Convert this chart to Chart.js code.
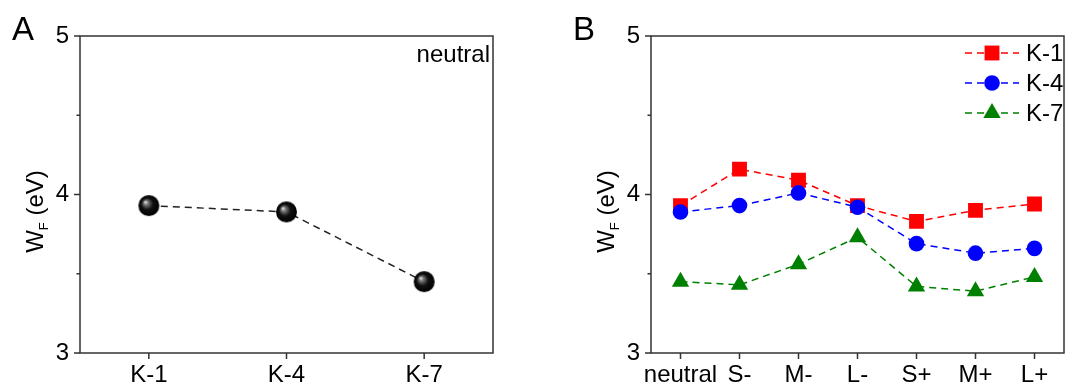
<!DOCTYPE html>
<html>
<head>
<meta charset="utf-8">
<script src="https://cdn.jsdelivr.net/npm/chart.js@4"></script>
<style>
  body { margin: 0; background: #fff; }
  #wrap { position: relative; width: 1088px; height: 390px; }
  canvas { position: absolute; top: 0; }
</style>
</head>
<body>
<div id="wrap">
  <canvas id="chartA" width="544" height="390" style="left:0"></canvas>
  <canvas id="chartB" width="544" height="390" style="left:544px"></canvas>
</div>
<script>
const samples = ['K-1', 'K-4', 'K-7'];
const neutralWF = [3.93, 3.89, 3.45];

const states = ['neutral', 'S-', 'M-', 'L-', 'S+', 'M+', 'L+'];
const wfK1 = [3.93, 4.16, 4.09, 3.93, 3.83, 3.90, 3.94];
const wfK4 = [3.89, 3.93, 4.01, 3.92, 3.69, 3.63, 3.66];
const wfK7 = [3.45, 3.43, 3.56, 3.73, 3.42, 3.39, 3.48];

const yMajor = [3, 4, 5];
const yMinor = [3.5, 4.5];

const FONT = "'Liberation Sans', Arial, sans-serif";
Chart.defaults.font.family = FONT;
Chart.defaults.color = '#000';

// black glossy ball used as point style in panel A
function sphere(r) {
  const c = document.createElement('canvas');
  c.width = c.height = 2 * r + 2;
  const g = c.getContext('2d');
  const m = r + 1;
  const grad = g.createRadialGradient(m - r * 0.35, m - r * 0.35, 0, m, m, r);
  grad.addColorStop(0, '#f4f4f4');
  grad.addColorStop(0.22, '#777');
  grad.addColorStop(0.55, '#111');
  grad.addColorStop(1, '#000');
  g.fillStyle = grad;
  g.beginPath();
  g.arc(m, m, r, 0, Math.PI * 2);
  g.fill();
  return c;
}

const frame = {
  id: 'frame',
  beforeDatasetsDraw(chart, args, opts) {
    const { ctx, chartArea: a, scales: { x, y } } = chart;
    ctx.save();
    ctx.strokeStyle = '#333';
    ctx.lineWidth = 1.5;
    ctx.strokeRect(a.left, a.top, a.right - a.left, a.bottom - a.top);
    ctx.beginPath();
    yMajor.forEach(v => {
      const py = y.getPixelForValue(v);
      ctx.moveTo(a.left - 6, py); ctx.lineTo(a.left, py);
    });
    yMinor.forEach(v => {
      const py = y.getPixelForValue(v);
      ctx.moveTo(a.left - 3.5, py); ctx.lineTo(a.left, py);
    });
    x.ticks.forEach((t, i) => {
      const px = x.getPixelForTick(i);
      ctx.moveTo(px, a.bottom); ctx.lineTo(px, a.bottom + 6);
    });
    ctx.stroke();

    // y title: W_F (eV)
    ctx.fillStyle = '#000';
    ctx.translate(a.left - 37, (a.top + a.bottom) / 2 + 17);
    ctx.rotate(-Math.PI / 2);
    ctx.textBaseline = 'alphabetic';
    ctx.font = '24px ' + FONT;
    const wW = ctx.measureText('W').width;
    const rest = ' (eV)';
    const rW = ctx.measureText(rest).width;
    ctx.font = '13px ' + FONT;
    const fW = ctx.measureText('F').width;
    let sx = -(wW + fW + rW) / 2;
    ctx.font = '24px ' + FONT;
    ctx.fillText('W', sx, 0);
    ctx.font = '13px ' + FONT;
    ctx.fillText('F', sx + wW, 5);
    ctx.font = '24px ' + FONT;
    ctx.fillText(rest, sx + wW + fW, 0);
    ctx.restore();

    ctx.save();
    ctx.fillStyle = '#000';
    ctx.font = '33px ' + FONT;
    ctx.textBaseline = 'alphabetic';
    ctx.fillText(opts.letter, opts.letterX, 40);
    if (opts.note) {
      ctx.font = '24px ' + FONT;
      ctx.textAlign = 'right';
      ctx.fillText(opts.note, a.right - 3, 62);
    }
    ctx.restore();
  }
};

const legendB = {
  id: 'legendB',
  afterDraw(chart, args, opts) {
    if (!opts.show) return;
    const { ctx } = chart;
    const rows = [53, 83, 113];
    chart.data.datasets.forEach((ds, i) => {
      const yy = rows[i];
      ctx.save();
      ctx.strokeStyle = ds.borderColor;
      ctx.lineWidth = 1.5;
      ctx.setLineDash([7, 5]);
      ctx.beginPath();
      ctx.moveTo(421, yy); ctx.lineTo(475, yy);
      ctx.stroke();
      ctx.setLineDash([]);
      ctx.fillStyle = ds.pointBackgroundColor;
      ctx.strokeStyle = ds.pointBackgroundColor;
      Chart.helpers.drawPoint(ctx, { pointStyle: ds.pointStyle, radius: ds.pointRadius, borderWidth: 0, rotation: 0 }, 448, yy);
      ctx.fillStyle = '#000';
      ctx.font = '24px ' + FONT;
      ctx.textBaseline = 'middle';
      ctx.fillText(ds.label, 482, yy + 1);
      ctx.restore();
    });
  }
};

function axes(leftW) {
  return {
    x: {
      type: 'category',
      offset: true,
      grid: { display: false, drawTicks: false },
      border: { display: false },
      ticks: { font: { size: 24 }, padding: 8, color: '#000', maxRotation: 0, autoSkip: false },
      afterFit: s => { s.height = 37; }
    },
    y: {
      min: 3,
      max: 5,
      grid: { display: false, drawTicks: false },
      border: { display: false },
      ticks: { stepSize: 1, font: { size: 24 }, padding: 11, color: '#000' },
      afterFit: s => { s.width = leftW; }
    }
  };
}

const common = {
  responsive: false,
  animation: false,
  devicePixelRatio: 1,
  events: []
};

new Chart(document.getElementById('chartA'), {
  type: 'line',
  data: {
    labels: samples,
    datasets: [{
      label: 'neutral',
      data: neutralWF,
      borderColor: '#222',
      borderWidth: 1.5,
      borderDash: [7, 5],
      pointStyle: sphere(10.5),
      pointRadius: 10.5,
      fill: false
    }]
  },
  options: Object.assign({}, common, {
    layout: { padding: { top: 36, right: 51, left: 0, bottom: 0 } },
    scales: axes(80),
    plugins: {
      legend: { display: false },
      tooltip: { enabled: false },
      frame: { letter: 'A', letterX: 12, note: 'neutral' },
      legendB: { show: false }
    }
  }),
  plugins: [frame, legendB]
});

new Chart(document.getElementById('chartB'), {
  type: 'line',
  data: {
    labels: states,
    datasets: [
      {
        label: 'K-1', data: wfK1, order: 3,
        borderColor: '#ff0000', pointBackgroundColor: '#ff0000', pointBorderColor: '#ff0000',
        pointStyle: 'rect', pointRadius: 10.5, pointBorderWidth: 0,
        borderWidth: 1.5, borderDash: [7, 5], fill: false
      },
      {
        label: 'K-4', data: wfK4, order: 2,
        borderColor: '#0000ff', pointBackgroundColor: '#0000ff', pointBorderColor: '#0000ff',
        pointStyle: 'circle', pointRadius: 7.8, pointBorderWidth: 0,
        borderWidth: 1.5, borderDash: [7, 5], fill: false
      },
      {
        label: 'K-7', data: wfK7, order: 1,
        borderColor: '#008000', pointBackgroundColor: '#008000', pointBorderColor: '#008000',
        pointStyle: 'triangle', pointRadius: 10, pointBorderWidth: 0,
        borderWidth: 1.5, borderDash: [7, 5], fill: false
      }
    ]
  },
  options: Object.assign({}, common, {
    layout: { padding: { top: 36, right: 24, left: 0, bottom: 0 } },
    scales: axes(107),
    plugins: {
      legend: { display: false },
      tooltip: { enabled: false },
      frame: { letter: 'B', letterX: 29 },
      legendB: { show: true }
    }
  }),
  plugins: [frame, legendB]
});
</script>
</body>
</html>
